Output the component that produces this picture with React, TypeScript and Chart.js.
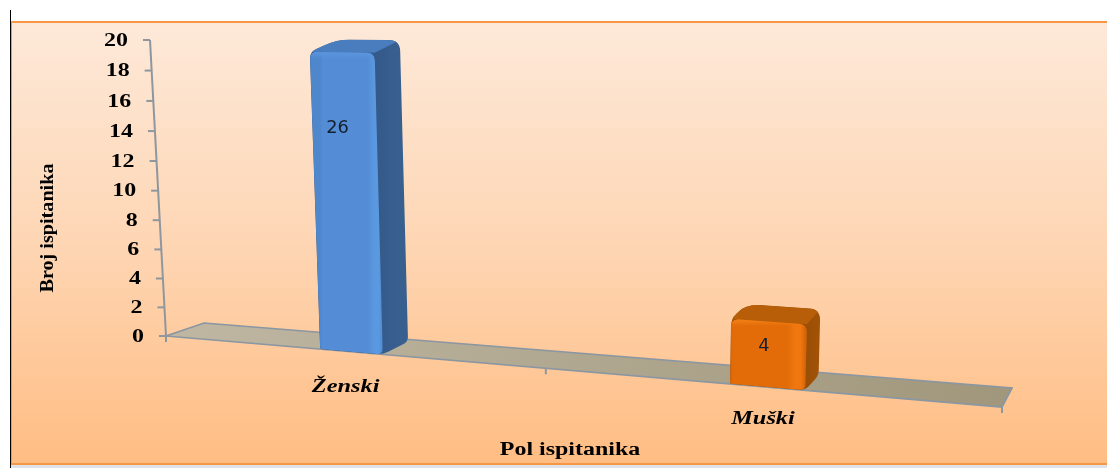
import React, { useEffect, useRef } from "react";
import { Chart, registerables } from "chart.js";

Chart.register(...registerables);

// Chart content
const categories = ["Ženski", "Muški"];
const respondents = [26, 4];
const xAxisTitle = "Pol ispitanika";
const yAxisTitle = "Broj ispitanika";
const axisMax = 20;
const axisStep = 2;

// Per-bar shading: front, front highlight, side, top
const barShades = [
  { front: "#548dd6", glow: "#5a98e0", edge: "#4f87cc", side: "#34598a", sideEdge: "#38608f", top: "#4a7dbd", bevel: "#5a96df" },
  { front: "#e36c09", glow: "#f07610", edge: "#d56507", side: "#9a4f07", sideEdge: "#a35305", top: "#b85d08", bevel: "#f58318" },
];

const WIDTH = 1107;
const HEIGHT = 468;

// Corners of the tilted plot wall on the canvas, as (left/right, bottom/top).
const Q = {
  p0: [166, 336],
  p1: [1002, 407],
  p2: [1020, 52],
  p3: [150, 40],
};
// How far the floor recedes at its left and right ends.
const depthLeft = [38, -13];
const depthRight = [10, -19];
const barDepth = 0.85;
// Bars stand a little to the right of the category centre.
const barNudge = 4;
// Columns over the axis limit stop just under the top tick.
const clipMargin = 0.6;

// Square-to-quad homography for the perspective view.
function makeHomography() {
  const [x0, y0] = Q.p0;
  const [x1, y1] = Q.p1;
  const [x2, y2] = Q.p2;
  const [x3, y3] = Q.p3;
  const dx1 = x1 - x2;
  const dx2 = x3 - x2;
  const sx = x0 - x1 + x2 - x3;
  const dy1 = y1 - y2;
  const dy2 = y3 - y2;
  const sy = y0 - y1 + y2 - y3;
  const den = dx1 * dy2 - dx2 * dy1;
  const g = (sx * dy2 - dx2 * sy) / den;
  const h = (dx1 * sy - sx * dy1) / den;
  const a = x1 - x0 + g * x1;
  const b = x3 - x0 + h * x3;
  const d = y1 - y0 + g * y1;
  const e = y3 - y0 + h * y3;
  return (t: number, u: number) => {
    const w = g * t + h * u + 1;
    return [(a * t + b * u + x0) / w, (d * t + e * u + y0) / w];
  };
}
const homography = makeHomography();

type Pt = number[];

// Traces a closed polygon whose corners are rounded by the given radii.
function roundedPath(ctx: CanvasRenderingContext2D, pts: Pt[], radii: number[]) {
  const n = pts.length;
  ctx.beginPath();
  for (let i = 0; i < n; i++) {
    const p = pts[i];
    const prev = pts[(i + n - 1) % n];
    const next = pts[(i + 1) % n];
    const r = radii[i];
    const toPrev = Math.hypot(prev[0] - p[0], prev[1] - p[1]);
    const toNext = Math.hypot(next[0] - p[0], next[1] - p[1]);
    const ra = Math.min(r, toPrev / 2);
    const rb = Math.min(r, toNext / 2);
    const a = [p[0] + ((prev[0] - p[0]) * ra) / toPrev, p[1] + ((prev[1] - p[1]) * ra) / toPrev];
    const b = [p[0] + ((next[0] - p[0]) * rb) / toNext, p[1] + ((next[1] - p[1]) * rb) / toNext];
    if (i === 0) ctx.moveTo(a[0], a[1]);
    else ctx.lineTo(a[0], a[1]);
    ctx.quadraticCurveTo(p[0], p[1], b[0], b[1]);
  }
  ctx.closePath();
}

// Draws text with a horizontal stretch around its anchor.
function stretchedText(
  ctx: CanvasRenderingContext2D,
  text: string,
  x: number,
  y: number,
  font: string,
  stretch: number,
  align: CanvasTextAlign,
  rotate = 0,
  color = "#000000",
) {
  ctx.save();
  ctx.translate(x, y);
  if (rotate) ctx.rotate(rotate);
  ctx.scale(stretch, 1);
  ctx.font = font;
  ctx.fillStyle = color;
  ctx.textAlign = align;
  ctx.textBaseline = "middle";
  ctx.fillText(text, 0, 0);
  ctx.restore();
}

const perspectivePlugin = {
  id: "perspective",
  beforeDraw(chart: any) {
    const { ctx } = chart;
    ctx.save();
    ctx.fillStyle = "#ffffff";
    ctx.fillRect(0, 0, WIDTH, HEIGHT);
    const bg = ctx.createLinearGradient(0, 23, 0, 463);
    bg.addColorStop(0, "#fde9d9");
    bg.addColorStop(0.5, "#fed6b4");
    bg.addColorStop(1, "#ffbd83");
    ctx.fillStyle = bg;
    ctx.fillRect(12, 23, WIDTH - 12, 440);
    ctx.fillStyle = "#f79646";
    ctx.fillRect(11, 21, WIDTH - 11, 2);
    ctx.fillRect(11, 463, WIDTH - 11, 2);
    ctx.fillRect(11, 22, 1, 442);
    ctx.fillStyle = "#dfe2e6";
    ctx.fillRect(11, 465, WIDTH - 11, 3);
    ctx.fillStyle = "#000000";
    ctx.fillRect(10, 10, 1, HEIGHT - 10);
    ctx.restore();
  },
  beforeDatasetsDraw(chart: any) {
    const { ctx, scales, chartArea } = chart;
    const project = projector(chartArea);
    const y = scales.y;
    const x = scales.x;
    const bottom = y.getPixelForValue(0);
    const left = chartArea.left;
    const right = chartArea.right;

    // Floor slab
    const fl = project(left, bottom, 0);
    const fr = project(right, bottom, 0);
    const br = project(right, bottom, 1);
    const bl = project(left, bottom, 1);
    const floor = ctx.createLinearGradient(fl[0], 0, fr[0], 0);
    floor.addColorStop(0, "#bfb7a2");
    floor.addColorStop(1, "#a0977c");
    ctx.save();
    ctx.beginPath();
    ctx.moveTo(fl[0], fl[1]);
    ctx.lineTo(fr[0], fr[1]);
    ctx.lineTo(br[0], br[1]);
    ctx.lineTo(bl[0], bl[1]);
    ctx.closePath();
    ctx.fillStyle = floor;
    ctx.fill();
    ctx.strokeStyle = "#8a96a2";
    ctx.lineWidth = 1.7;
    ctx.stroke();

    // Value axis with its tick marks and labels
    ctx.strokeStyle = "#8f979e";
    ctx.lineWidth = 2;
    const axisTop = project(left, y.getPixelForValue(axisMax), 0);
    ctx.beginPath();
    ctx.moveTo(axisTop[0], axisTop[1]);
    ctx.lineTo(fl[0], fl[1]);
    ctx.stroke();
    y.ticks.forEach((tick: any) => {
      const p = project(left, y.getPixelForValue(tick.value), 0);
      ctx.beginPath();
      ctx.moveTo(p[0] - 7, p[1]);
      ctx.lineTo(p[0], p[1]);
      ctx.stroke();
      stretchedText(ctx, String(tick.value), p[0] - 22, p[1] + 1, "bold 18px 'Liberation Serif'", 1.33, "right");
    });

    // Category axis: tick marks on the category boundaries, then names
    const half = (x.getPixelForTick(1) - x.getPixelForTick(0)) / 2;
    [x.getPixelForTick(0) - half, x.getPixelForTick(0) + half, x.getPixelForTick(1) + half].forEach((px: number) => {
      const p = project(px, bottom, 0);
      ctx.beginPath();
      ctx.moveTo(p[0], p[1]);
      ctx.lineTo(p[0], p[1] + 6);
      ctx.stroke();
    });
    const labelOffset = [
      [-2, 36],
      [0, 32],
    ];
    categories.forEach((name, i) => {
      const p = project(x.getPixelForTick(i), bottom, 0);
      stretchedText(
        ctx,
        name,
        p[0] + labelOffset[i][0],
        p[1] + labelOffset[i][1],
        "italic bold 19px 'Liberation Serif'",
        1.28,
        "center",
      );
    });

    // Axis titles
    stretchedText(ctx, xAxisTitle, 570, 450, "bold 18px 'Liberation Serif'", 1.33, "center");
    stretchedText(ctx, yAxisTitle, 48, 228, "bold 18px 'Liberation Serif'", 1.12, "center", -Math.PI / 2);
    ctx.restore();
  },
  // Bars are shaded as rounded boxes standing on the floor.
  beforeDatasetDraw(chart: any, args: any) {
    const { ctx, chartArea, scales } = chart;
    const project = projector(chartArea);
    const meta = args.meta;
    meta.data.forEach((bar: any, i: number) => {
      const shade = barShades[i];
      const x0 = bar.x - bar.width / 2 + barNudge;
      const x1 = bar.x + bar.width / 2 + barNudge;
      const top = Math.max(bar.y, scales.y.getPixelForValue(axisMax - clipMargin));
      const base = bar.base;

      const fbl = project(x0, base, 0);
      const fbr = project(x1, base, 0);
      const ftr = project(x1, top, 0);
      const ftl = project(x0, top, 0);
      const bbr = project(x1, base, barDepth);
      const btr = project(x1, top, barDepth);
      const btl = project(x0, top, barDepth);

      ctx.save();
      // Whole outline first, so the side and the cap share one rounded silhouette
      roundedPath(ctx, [fbl, fbr, bbr, btr, btl, ftl], [2, 6, 5, 11, 13, 7]);
      ctx.clip();

      const sideFill = ctx.createLinearGradient(ftr[0], 0, btr[0], 0);
      sideFill.addColorStop(0, shade.side);
      sideFill.addColorStop(1, shade.sideEdge);
      ctx.fillStyle = sideFill;
      ctx.fillRect(ftl[0] - 20, btr[1] - 20, btr[0] - ftl[0] + 40, fbr[1] - btr[1] + 40);

      ctx.beginPath();
      ctx.moveTo(ftl[0], ftl[1]);
      ctx.lineTo(ftr[0], ftr[1]);
      ctx.lineTo(btr[0], btr[1]);
      ctx.lineTo(btl[0], btl[1]);
      ctx.closePath();
      ctx.fillStyle = shade.top;
      ctx.fill();

      // Front face with the bevel highlight along its right edge
      roundedPath(ctx, [fbl, fbr, ftr, ftl], [2, 6, 8, 8]);
      const frontFill = ctx.createLinearGradient(fbl[0], 0, fbr[0], 0);
      frontFill.addColorStop(0, shade.edge);
      frontFill.addColorStop(0.04, shade.front);
      frontFill.addColorStop(0.76, shade.front);
      frontFill.addColorStop(0.86, shade.glow);
      frontFill.addColorStop(0.94, shade.glow);
      frontFill.addColorStop(1, shade.edge);
      ctx.fillStyle = frontFill;
      ctx.fill();

      // Soft bevel along the top of the front face
      ctx.clip();
      const bevel = ctx.createLinearGradient(0, ftl[1], 0, ftl[1] + 7);
      bevel.addColorStop(0, shade.bevel);
      bevel.addColorStop(1, shade.bevel + "00");
      ctx.fillStyle = bevel;
      ctx.fillRect(ftl[0] - 5, ftl[1] - 5, ftr[0] - ftl[0] + 10, 14);
      ctx.restore();
    });
    return false;
  },
  afterDatasetsDraw(chart: any) {
    const { ctx, chartArea, scales } = chart;
    const project = projector(chartArea);
    const meta = chart.getDatasetMeta(0);
    // Where each value sits on its column: height share and sideways shift
    const heightShare = [0.73, 0.61];
    const shift = [-3, 0];
    respondents.forEach((value, i) => {
      const height = Math.min(value, axisMax) * heightShare[i];
      const p = project(meta.data[i].x, scales.y.getPixelForValue(height), 0);
      stretchedText(ctx, String(value), p[0] + shift[i], p[1], "17px 'DejaVu Sans'", 1.05, "center", 0, "#14202e");
    });
  },
};

// Maps scale pixels (plus a floor depth 0..1) into the perspective view.
function projector(area: any) {
  return (px: number, py: number, depth: number) => {
    const t = (px - area.left) / (area.right - area.left);
    const u = (area.bottom - py) / (area.bottom - area.top);
    const p = homography(t, u);
    return [
      p[0] + depth * (depthLeft[0] + (depthRight[0] - depthLeft[0]) * t),
      p[1] + depth * (depthLeft[1] + (depthRight[1] - depthLeft[1]) * t),
    ];
  };
}

export default function App() {
  const ref = useRef<HTMLCanvasElement | null>(null);

  useEffect(() => {
    if (!ref.current) return;
    const chart = new Chart(ref.current, {
      type: "bar",
      data: {
        labels: categories,
        datasets: [
          {
            label: yAxisTitle,
            data: respondents,
            backgroundColor: barShades.map((s) => s.front),
            barPercentage: 0.165,
            categoryPercentage: 1,
          },
        ],
      },
      options: {
        animation: false,
        responsive: false,
        layout: { padding: { left: 166, top: 40, right: WIDTH - 1002, bottom: HEIGHT - 336 } },
        plugins: { legend: { display: false }, title: { display: false }, tooltip: { enabled: false } },
        scales: {
          x: { display: false },
          y: { display: false, min: 0, max: axisMax, ticks: { stepSize: axisStep } },
        },
      },
      plugins: [perspectivePlugin],
    });
    return () => chart.destroy();
  }, []);

  return (
    <div style={{ position: "fixed", left: 0, top: 0, width: WIDTH, height: HEIGHT }}>
      <canvas ref={ref} width={WIDTH} height={HEIGHT} style={{ display: "block" }} />
    </div>
  );
}
